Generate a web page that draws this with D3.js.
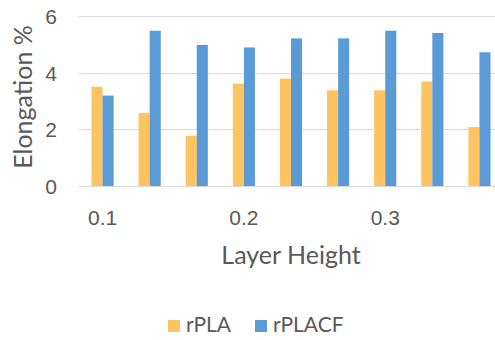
<!DOCTYPE html>
<html>
<head>
<meta charset="utf-8">
<script src="https://cdn.jsdelivr.net/npm/d3@7"></script>
<style>
	body { margin: 0; background: #fff; }
	svg { display: block; font-family: Lato, 'Open Sans', sans-serif; }
	.tick text { fill: #595959; }
</style>
</head>
<body>
<div id="chart"></div>
<script>
// chart data
const categories = [0, 1, 2, 3, 4, 5, 6, 7, 8];
const tickLabels = ['0.1', '', '', '0.2', '', '', '0.3', '', ''];
const seriesNames = ['rPLA', 'rPLACF'];
const rPLA = [3.5, 2.58, 1.77, 3.61, 3.79, 3.38, 3.38, 3.69, 2.08];
const rPLACF = [3.19, 5.48, 4.98, 4.89, 5.21, 5.21, 5.48, 5.4, 4.72];
const yTicks = [0, 2, 4, 6];

(() => {
	const width = 495;
	const height = 340;
	const colors = { rPLA: '#ffc35f', rPLACF: '#5b9bd5' };
	const textColor = '#595959';

	const svg = d3.select('#chart').append('svg')
		.attr('width', width)
		.attr('height', height);

	// scales
	const x = d3.scaleBand()
		.domain(categories)
		.range([79, 503])
		.paddingInner(0.53)
		.paddingOuter(0.265);
	const xs = d3.scaleBand()
		.domain(seriesNames)
		.range([0, x.bandwidth()]);
	const y = d3.scaleLinear()
		.domain([0, 6])
		.range([186, 16]);

	// gridlines
	svg.append('g')
		.selectAll('line')
		.data(yTicks)
		.enter().append('line')
			.attr('x1', 79)
			.attr('x2', width)
			.attr('y1', d => Math.round(y(d)) + 0.5)
			.attr('y2', d => Math.round(y(d)) + 0.5)
			.attr('stroke', '#d9d9d9')
			.attr('stroke-width', 1.2);

	// y axis labels
	const yAxis = d3.axisLeft(y)
		.tickValues(yTicks)
		.tickFormat(d3.format('d'))
		.tickSize(0)
		.tickPadding(0);
	svg.append('g')
		.attr('transform', 'translate(57, 0)')
		.call(yAxis)
		.call(g => g.select('.domain').remove())
		.selectAll('text')
			.style('font-size', '21px')
			.attr('dy', '0.35em');

	// x axis labels
	const xAxis = d3.axisBottom(x)
		.tickFormat(d => tickLabels[d])
		.tickSize(0)
		.tickPadding(0);
	svg.append('g')
		.attr('transform', 'translate(0, 225)')
		.call(xAxis)
		.call(g => g.select('.domain').remove())
		.selectAll('text')
			.style('font-size', '21px')
			.attr('dy', 0);

	// bars
	const rows = categories.map(i => ({ i, rPLA: rPLA[i], rPLACF: rPLACF[i] }));
	const groups = svg.append('g').selectAll('g')
		.data(rows)
		.enter().append('g')
			.attr('transform', d => `translate(${x(d.i)}, 0)`);
	groups.selectAll('rect')
		.data(d => seriesNames.map(s => ({ s, v: d[s] })))
		.enter().append('rect')
			.attr('x', d => xs(d.s))
			.attr('width', xs.bandwidth())
			.attr('y', d => y(d.v))
			.attr('height', d => y(0) - y(d.v))
			.attr('fill', d => colors[d.s]);

	// axis titles
	svg.append('text')
		.attr('x', 291)
		.attr('y', 264)
		.attr('text-anchor', 'middle')
		.style('font-size', '25px')
		.attr('fill', textColor)
		.text('Layer Height');
	svg.append('text')
		.attr('transform', 'translate(32, 97) rotate(-90)')
		.attr('text-anchor', 'middle')
		.style('font-size', '25px')
		.attr('fill', textColor)
		.text('Elongation %');

	// legend
	const legendX = [168, 255];
	const legend = svg.append('g').selectAll('g')
		.data(seriesNames)
		.enter().append('g')
			.attr('transform', (d, i) => `translate(${legendX[i]}, 320)`);
	legend.append('rect')
		.attr('width', 12)
		.attr('height', 12)
		.attr('fill', d => colors[d]);
	legend.append('text')
		.attr('x', 18)
		.attr('y', 12)
		.style('font-size', '21px')
		.attr('fill', textColor)
		.text(d => d);
})();
</script>
</body>
</html>
